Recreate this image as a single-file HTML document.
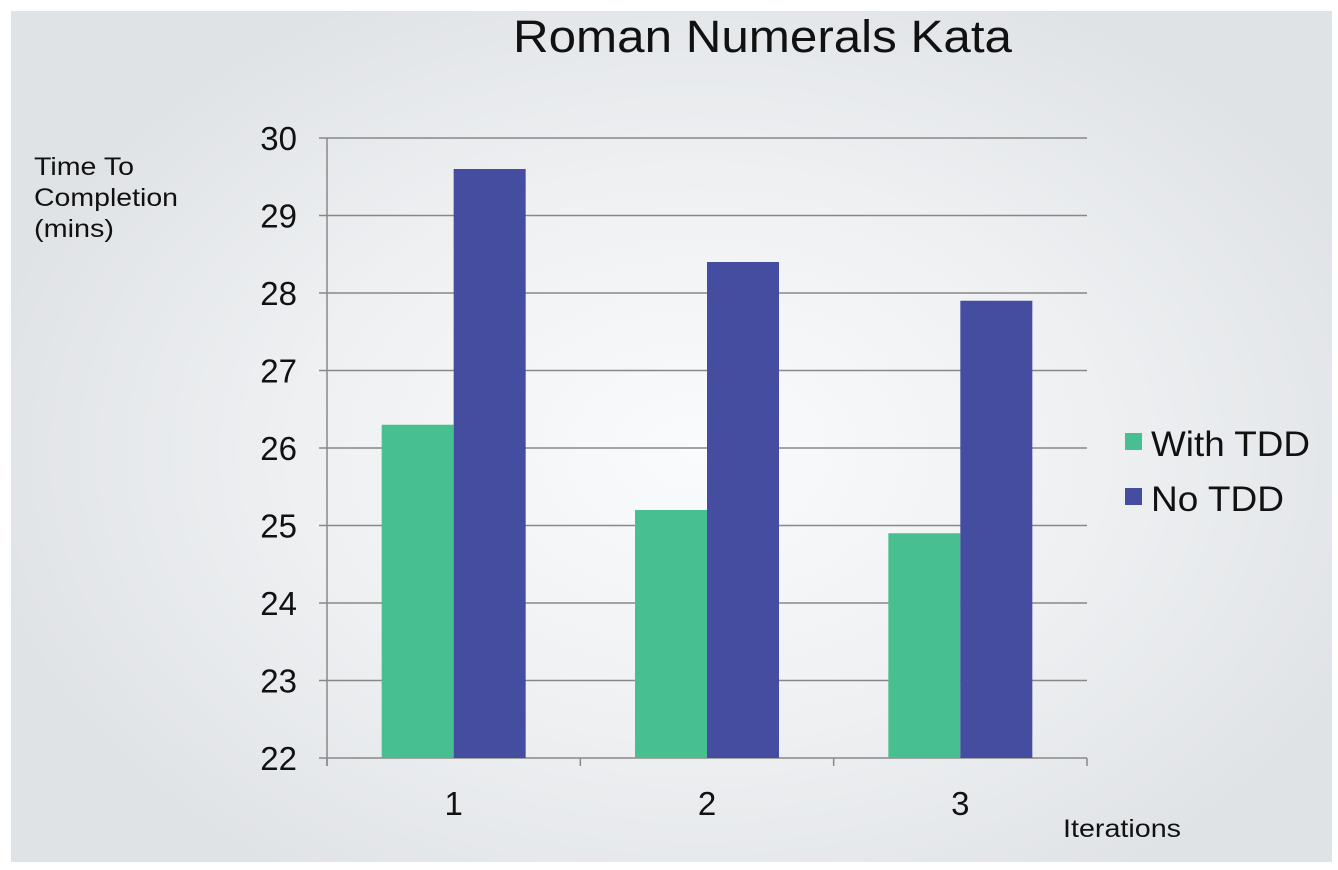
<!DOCTYPE html>
<html><head><meta charset="utf-8"><style>
html,body{margin:0;padding:0;background:#fff;width:1338px;height:870px;overflow:hidden}
#panel{position:absolute;left:11px;top:11px;width:1321px;height:851px;background:radial-gradient(ellipse 55% 60% at 52% 52%,#fafbfc 0%,#eef0f2 55%,#e0e3e6 100%)}
svg{position:absolute;left:0;top:0}
text{font-family:"Liberation Sans",sans-serif;fill:#111}
</style></head><body>
<div id="panel"></div>
<svg id="chart" width="1338" height="870">
<text x="513" y="52" font-size="45" textLength="499" lengthAdjust="spacingAndGlyphs">Roman Numerals Kata</text>
<g font-size="25">
<text x="34" y="175" textLength="100" lengthAdjust="spacingAndGlyphs">Time To</text>
<text x="34" y="206" textLength="144" lengthAdjust="spacingAndGlyphs">Completion</text>
<text x="34" y="237" textLength="80" lengthAdjust="spacingAndGlyphs">(mins)</text>
</g>
<text x="1063" y="837" font-size="25" textLength="118" lengthAdjust="spacingAndGlyphs">Iterations</text>
<g id="grid"></g><g id="bars"></g><g id="axes"></g>
<g>
<rect x="1125" y="433" width="17" height="17" fill="#48bf91"/>
<text x="1151" y="456" font-size="35" textLength="159" lengthAdjust="spacingAndGlyphs">With TDD</text>
<rect x="1125" y="488" width="17" height="17" fill="#454da0"/>
<text x="1151" y="511" font-size="35" textLength="133" lengthAdjust="spacingAndGlyphs">No TDD</text>
</g>
</svg>
<script>
const categories=["1","2","3"];
const withTDD=[26.3,25.2,24.9];
const noTDD=[29.6,28.4,27.9];
const yTicks=[22,23,24,25,26,27,28,29,30];
const NS="http://www.w3.org/2000/svg";
const x0=327,x1=1087,yTop=138,yBot=758,yMin=22,yMax=30;
const y=v=>yBot-(v-yMin)/(yMax-yMin)*(yBot-yTop);
const band=(x1-x0)/categories.length;
function mk(tag,attrs,parent){const e=document.createElementNS(NS,tag);for(const k in attrs)e.setAttribute(k,attrs[k]);parent.appendChild(e);return e;}
const grid=document.getElementById('grid'),bars=document.getElementById('bars'),axes=document.getElementById('axes');
yTicks.forEach(t=>{
  const l=mk('line',{x1:x0-8,x2:x1,y1:y(t),y2:y(t),stroke:'#888','stroke-width':1.5},grid);
  
  
  const tx=mk('text',{x:297,y:y(t)+12,'font-size':33,'text-anchor':'end'},axes);
  tx.textContent=t;
  
  
});
const ya=mk('line',{x1:x0,x2:x0,y1:yTop,y2:yBot+8,stroke:'#888','stroke-width':1.5},axes);


for(let i=0;i<=categories.length;i++){
  const tk=mk('line',{x1:x0+i*band,x2:x0+i*band,y1:yBot,y2:yBot+8,stroke:'#888','stroke-width':1.5},axes);
  
  
}
const bw=72;
categories.forEach((c,i)=>{
  const cx=x0+band*(i+0.5);
  const g=mk('rect',{x:cx-bw,y:y(withTDD[i]),width:bw,height:yBot-y(withTDD[i]),fill:'#48bf91'},bars);
  
  
  const b=mk('rect',{x:cx,y:y(noTDD[i]),width:bw,height:yBot-y(noTDD[i]),fill:'#454da0'},bars);
  
  
  const t=mk('text',{x:cx,y:815,'font-size':33,'text-anchor':'middle'},axes);
  t.textContent=c;
  
  
});
</script>
</body></html>
